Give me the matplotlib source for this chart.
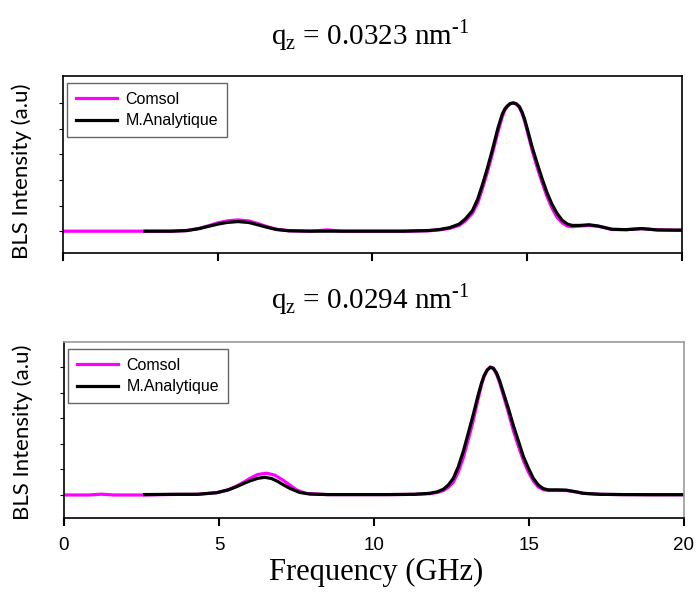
import matplotlib
matplotlib.use("Agg")
import matplotlib.pyplot as plt

# Spectres BLS (fréquence en GHz, intensité normalisée)
top_comsol_f = [0, 1, 2, 2.65, 3.5, 4.0, 4.4, 4.74, 5.0, 5.3, 5.65, 6.0, 6.26, 6.6, 6.9, 7.3, 8.0, 8.55,
                9.0, 10, 11, 11.8, 12.16, 12.5, 12.8, 13.0, 13.23, 13.4, 13.55, 13.7, 13.87, 14.05, 14.19,
                14.27, 14.35, 14.45, 14.55, 14.65, 14.75, 14.84, 14.92, 15.0, 15.16, 15.32, 15.48, 15.64,
                15.8, 15.96, 16.13, 16.3, 16.45, 16.7, 17.0, 17.3, 17.74, 18.2, 18.7, 19.2, 19.8, 20]
top_comsol_i = [0, 0, 0, 0, 0, 0.005, 0.022, 0.045, 0.065, 0.08, 0.088, 0.08, 0.062, 0.035, 0.015, 0.004,
                0, 0.01, 0, 0, 0, 0.003, 0.01, 0.022, 0.045, 0.08, 0.14, 0.22, 0.33, 0.45, 0.6, 0.77,
                0.89, 0.94, 0.97, 0.993, 1.0, 0.99, 0.965, 0.915, 0.855, 0.78, 0.63, 0.5, 0.38, 0.27,
                0.18, 0.11, 0.065, 0.04, 0.035, 0.04, 0.045, 0.038, 0.013, 0.012, 0.02, 0.01, 0.008, 0.008]

top_analytic_f = [2.65, 3.5, 4.0, 4.4, 4.74, 5.0, 5.3, 5.65, 6.0, 6.26, 6.6, 6.9, 7.3, 8.0, 9.0, 10.0,
                  11.0, 11.8, 12.16, 12.5, 12.8, 13.0, 13.23, 13.4, 13.55, 13.7, 13.87, 14.05, 14.19,
                  14.27, 14.35, 14.45, 14.55, 14.65, 14.75, 14.84, 14.92, 15.0, 15.16, 15.32, 15.48,
                  15.64, 15.8, 15.96, 16.13, 16.3, 16.45, 16.7, 17.0, 17.3, 17.74, 18.2, 18.7, 19.2,
                  19.8, 20.0]
top_analytic_i = [0.0, 0.0, 0.005, 0.02, 0.04, 0.055, 0.068, 0.075, 0.068, 0.052, 0.03, 0.013, 0.003,
                  0.0, 0.0, 0.0, 0.0, 0.005, 0.013, 0.028, 0.055, 0.095, 0.16, 0.25, 0.36, 0.48, 0.63,
                  0.8, 0.91, 0.95, 0.975, 0.995, 1.0, 0.993, 0.97, 0.925, 0.87, 0.8, 0.655, 0.53, 0.41,
                  0.3, 0.21, 0.14, 0.085, 0.055, 0.045, 0.045, 0.05, 0.04, 0.015, 0.012, 0.02, 0.01,
                  0.008, 0.008]

bot_comsol_f = [0, 0.8, 1.2, 1.6, 2.6, 3.5, 4.3, 4.93, 5.3, 5.57, 5.8, 6.0, 6.25, 6.54, 6.8, 7.07, 7.3,
                7.5, 7.8, 8.5, 9.5, 10.5, 11.3, 11.8, 12.05, 12.24, 12.4, 12.56, 12.72, 12.88, 13.04,
                13.2, 13.35, 13.47, 13.55, 13.65, 13.75, 13.85, 13.95, 14.05, 14.16, 14.33, 14.5, 14.66,
                14.82, 14.98, 15.14, 15.3, 15.46, 15.62, 15.9, 16.2, 16.5, 16.75, 17.3, 18.0, 19.0, 20.0]
bot_comsol_i = [0, 0, 0.006, 0, 0, 0.004, 0.005, 0.018, 0.04, 0.07, 0.1, 0.13, 0.16, 0.17, 0.155, 0.115,
                0.075, 0.04, 0.012, 0.003, 0.003, 0.003, 0.005, 0.01, 0.02, 0.035, 0.06, 0.1, 0.18,
                0.29, 0.43, 0.58, 0.74, 0.86, 0.925, 0.975, 1.0, 0.99, 0.945, 0.88, 0.79, 0.65, 0.5,
                0.38, 0.27, 0.18, 0.11, 0.062, 0.042, 0.035, 0.035, 0.035, 0.025, 0.013, 0.005, 0.003,
                0.002, 0.002]

bot_analytic_f = [2.6, 3.5, 4.3, 4.93, 5.3, 5.57, 5.8, 6.0, 6.25, 6.48, 6.7, 6.9, 7.07, 7.3, 7.6, 7.94,
                  8.5, 9.5, 10.5, 11.3, 11.8, 12.05, 12.24, 12.4, 12.56, 12.72, 12.88, 13.04, 13.2,
                  13.35, 13.47, 13.55, 13.65, 13.75, 13.85, 13.95, 14.05, 14.16, 14.33, 14.5, 14.66,
                  14.82, 14.98, 15.14, 15.3, 15.46, 15.62, 15.9, 16.2, 16.5, 16.75, 17.3, 18.0, 19.0,
                  20.0]
bot_analytic_i = [0.003, 0.005, 0.005, 0.018, 0.04, 0.065, 0.09, 0.11, 0.13, 0.138, 0.128, 0.105, 0.08,
                  0.05, 0.02, 0.007, 0.003, 0.003, 0.003, 0.005, 0.013, 0.025, 0.045, 0.078, 0.13, 0.22,
                  0.34, 0.48, 0.625, 0.77, 0.875, 0.93, 0.975, 0.997, 0.99, 0.955, 0.895, 0.81, 0.68,
                  0.54, 0.42, 0.3, 0.21, 0.13, 0.078, 0.05, 0.04, 0.04, 0.038, 0.025, 0.013, 0.005,
                  0.003, 0.002, 0.002]

titles = ["q$_{\\mathregular{z}}$ = 0.0323 nm$^{\\mathregular{\u2010 1}}$",
          "q$_{\\mathregular{z}}$ = 0.0294 nm$^{\\mathregular{\u2010 1}}$"]
x_ticks = [0, 5, 10, 15, 20]
y_ticks = [0, 0.2, 0.4, 0.6, 0.8, 1.0]

plt.rcParams["mathtext.fontset"] = "custom"
plt.rcParams["mathtext.rm"] = "Liberation Serif"

fig = plt.figure(figsize=(6.97, 5.95), dpi=100)
ax_top = fig.add_axes([0.0904, 0.5748, 0.888, 0.2975])
ax_bot = fig.add_axes([0.0918, 0.1294, 0.8895, 0.2958])

panels = [
    (ax_top, top_comsol_f, top_comsol_i, top_analytic_f, top_analytic_i, (-0.17, 1.21), 0.463),
    (ax_bot, bot_comsol_f, bot_comsol_i, bot_analytic_f, bot_analytic_i, (-0.18, 1.195), 0.49),
]

for ax, cf, ci, af, ai, ylim, label_y in panels:
    ax.plot(cf, ci, color="#ff00ff", lw=2.3, label="Comsol", solid_joinstyle="round")
    ax.plot(af, ai, color="black", lw=2.3, label="M.Analytique", solid_joinstyle="round")
    ax.set_xlim(0, 20)
    ax.set_ylim(*ylim)
    ax.set_xticks(x_ticks)
    ax.set_yticks(y_ticks)
    ax.set_yticklabels([])
    ax.tick_params(axis="x", direction="out", length=6, width=1.5, pad=8,
                   labelsize=13.5)
    ax.tick_params(axis="y", direction="out", length=3, width=0.8)
    for lab in ax.get_xticklabels():
        lab.set_fontfamily("Liberation Sans")
    for s in ax.spines.values():
        s.set_linewidth(1.2)
    ax.set_ylabel("BLS Intensity (a.u)", fontsize=16, family="Lato")
    ax.yaxis.set_label_coords(-0.05, label_y)
    leg = ax.legend(loc="upper left", bbox_to_anchor=(0.0065, 0.96), borderaxespad=0,
                    fancybox=False, frameon=True, handlelength=2.6, handletextpad=0.5,
                    labelspacing=0.4, borderpad=0.55,
                    prop={"family": "Liberation Sans", "size": 11.5})
    leg.get_frame().set_edgecolor("#404040")
    leg.get_frame().set_linewidth(1.0)

ax_top.set_xticklabels([])
ax_bot.spines["top"].set_color("#999999")
ax_bot.spines["right"].set_color("#999999")

fig.text(370 / 697, 1 - 44 / 595, titles[0], ha="center", va="baseline",
         family="Liberation Serif", fontsize=21)
fig.text(370 / 697, 1 - 308 / 595, titles[1], ha="center", va="baseline",
         family="Liberation Serif", fontsize=21)
fig.text(376 / 697, 1 - 580 / 595, "Frequency (GHz)", ha="center", va="baseline",
         family="Liberation Serif", fontsize=22)

fig.savefig("out.png", dpi=100)
plt.close(fig)
